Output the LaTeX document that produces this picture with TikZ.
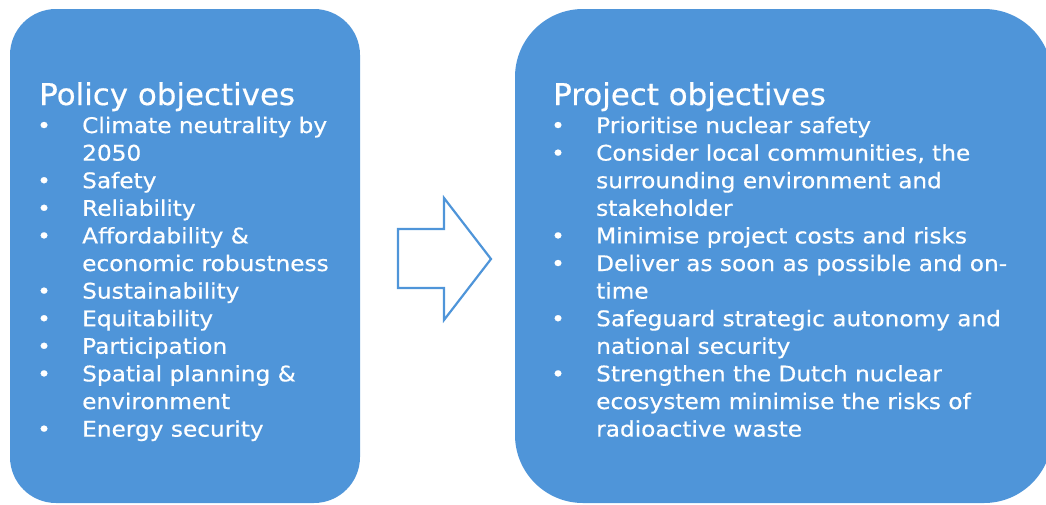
\documentclass[tikz,border=0pt]{standalone}
\usepackage{fontspec}
\setmainfont{DejaVu Sans}
\newfontfamily\headfont[FakeStretch=1.03,FakeBold=0.5]{DejaVu Sans}
\newfontfamily\itemfont[FakeStretch=1.08,FakeBold=0.5]{DejaVu Sans}
\usepackage{array}
\definecolor{boxblue}{RGB}{79,149,217}

\begin{document}
\begin{tikzpicture}[x=1pt,y=-1pt,
  head/.style={white,inner sep=0pt,anchor=base west,font=\headfont\fontsize{30}{36}\selectfont},
  list/.style={white,inner sep=0pt,anchor=base west,font=\itemfont\fontsize{21.5}{27.6}\selectfont}]
\useasboundingbox (0,0) rectangle (1046,504);

% the two boxes
\fill[boxblue,rounded corners=46pt] (10,9) rectangle (360,503);
\fill[boxblue,rounded corners=68pt] (515,9) rectangle (1052,503);

% hollow arrow in between
\draw[boxblue,line width=2.2pt,line join=miter]
  (398,229)--(444,229)--(444,198)--(491,259)--(444,320)--(444,288)--(398,288)--cycle;

\node[head] (policytitle) at (39,105) {Policy objectives};
\node[list] (policylist) at (37,133) {%
\begin{tabular}[t]{@{}p{45pt}@{}l@{}}
\textbullet & Climate neutrality by\\
 & 2050\\
\textbullet & Safety\\
\textbullet & Reliability\\
\textbullet & Affordability \&\\
 & economic robustness\\
\textbullet & Sustainability\\
\textbullet & Equitability\\
\textbullet & Participation\\
\textbullet & Spatial planning \&\\
 & environment\\
\textbullet & Energy security
\end{tabular}};

\node[head] (projecttitle) at (553,105) {Project objectives};
\node[list] (projectlist) at (551,133) {%
\begin{tabular}[t]{@{}p{45pt}@{}l@{}}
\textbullet & Prioritise nuclear safety\\
\textbullet & Consider local communities, the\\
 & surrounding environment and\\
 & stakeholder\\
\textbullet & Minimise project costs and risks\\
\textbullet & Deliver as soon as possible and on-\\
 & time\\
\textbullet & Safeguard strategic autonomy and\\
 & national security\\
\textbullet & Strengthen the Dutch nuclear\\
 & ecosystem minimise the risks of\\
 & radioactive waste
\end{tabular}};
\end{tikzpicture}
\end{document}
